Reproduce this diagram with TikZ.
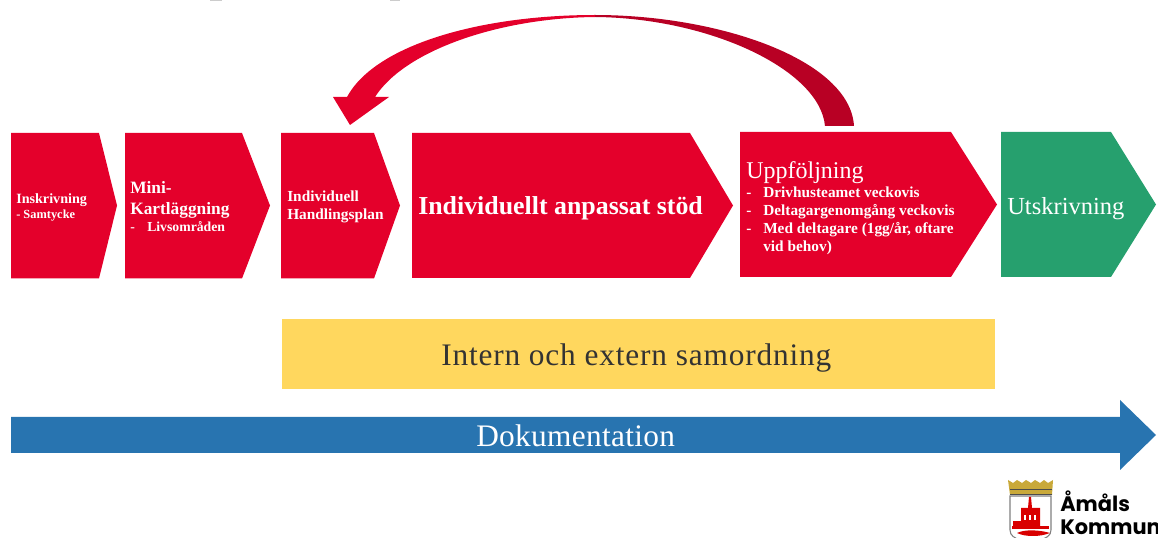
\documentclass[tikz,border=0pt]{standalone}
\usepackage{fontspec}
\setmainfont{Liberation Serif}
\newfontfamily\logofont{Poppins}
\definecolor{boxred}{HTML}{E4002B}
\definecolor{darkred}{HTML}{B80024}
\definecolor{boxgreen}{HTML}{26A06E}
\definecolor{barblue}{HTML}{2874B0}
\definecolor{baryellow}{HTML}{FFD75E}
\definecolor{crestgold}{HTML}{C9A93A}
\tikzset{
  label/.style={anchor=base west, inner sep=0pt, text=white, yshift=-0.75pt},
  small/.style={label, font=\bfseries\fontsize{11.5}{14}\selectfont},
  middle/.style={label, font=\bfseries\fontsize{13}{15}\selectfont},
  large/.style={label, font=\fontsize{18}{21}\selectfont},
  logotext/.style={anchor=base west, inner sep=0pt, font=\logofont\bfseries\fontsize{15.7}{18}\selectfont},
}
\begin{document}
\begin{tikzpicture}[x=0.75pt, y=-0.75pt]
\useasboundingbox (0, 0) rectangle (1158, 538);
\clip (0, 0) rectangle (1158, 538);
% cut off title
\fill[gray!40] (210, 0) rectangle (222, 1);
\fill[gray!40] (390, 0) rectangle (400, 1);
% steps
\fill[boxred] (11, 133) -- (99, 133) -- (117, 205.5) -- (99, 278.5) -- (11, 278.5) -- cycle;
\node[label, font=\bfseries\fontsize{10.6}{12}\selectfont] (inskrivning) at (16, 203) {Inskrivning};
\node[label, font=\bfseries\fontsize{9.3}{10}\selectfont] (samtycke) at (16, 218) {- Samtycke};
\fill[boxred] (125, 133) -- (242, 133) -- (270, 205.5) -- (242, 278.5) -- (125, 278.5) -- cycle;
\node[middle] (mini) at (130, 193) {Mini-};
\node[middle] (kartlaggning) at (130, 214) {Kartläggning};
\node[label, font=\bfseries\fontsize{10.3}{12}\selectfont] (dash one) at (130, 231) {-};
\node[label, font=\bfseries\fontsize{10.3}{12}\selectfont] (livsomraden) at (147, 231) {Livsområden};
\fill[boxred] (281, 133) -- (374, 133) -- (400, 205.5) -- (374, 278.5) -- (281, 278.5) -- cycle;
\node[small] (individuell) at (287, 201) {Individuell};
\node[small] (handlingsplan) at (287, 219) {Handlingsplan};
\fill[boxred] (412, 133) -- (690, 133) -- (733, 205.5) -- (690, 278) -- (412, 278) -- cycle;
\node[label, font=\bfseries\fontsize{19.4}{22}\selectfont] (stod) at (418, 214) {Individuellt anpassat stöd};
\fill[boxred] (740, 132) -- (951, 132) -- (997, 204.5) -- (951, 277) -- (740, 277) -- cycle;
\node[large] (uppfoljning) at (746, 178) {Uppföljning};
\node[small] (dash two) at (746, 197) {-};
\node[small] (drivhus) at (763, 197) {Drivhusteamet veckovis};
\node[small] (dash three) at (746, 215) {-};
\node[small] (deltagar) at (763, 215) {Deltagargenomgång veckovis};
\node[small] (dash four) at (746, 233) {-};
\node[small] (med) at (763, 233) {Med deltagare (1gg/år, oftare};
\node[small] (behov) at (763, 251) {vid behov)};
\fill[boxgreen] (1001, 132) -- (1111, 132) -- (1156, 204.5) -- (1111, 277) -- (1001, 277) -- cycle;
\node[label, font=\fontsize{18.4}{21}\selectfont] (utskrivning) at (1007, 214) {Utskrivning};
% curved arrow
\fill[darkred] (854, 126) .. controls (850, 60) and (720, 15) .. (595, 15) -- (595, 17) .. controls (710, 18) and (820, 70) .. (825, 126) -- cycle;
\fill[boxred] (595, 15) .. controls (480, 15) and (375, 45) .. (347, 97) -- (333, 97) -- (350, 125) -- (389, 97) -- (375, 97) .. controls (405, 50) and (500, 18) .. (595, 17) -- cycle;
% bars
\fill[baryellow] (282, 319) rectangle (995, 389);
\node[label, text=black!80, font=\addfontfeature{LetterSpace=2.7}\fontsize{23.5}{26}\selectfont] (samordning) at (441, 365) {Intern och extern samordning};
\fill[barblue] (11, 417) -- (1120, 417) -- (1120, 400) -- (1156, 435) -- (1120, 470) -- (1120, 453) -- (11, 453) -- cycle;
\node[label, font=\addfontfeature{LetterSpace=1}\fontsize{23.5}{26}\selectfont] (dokumentation) at (476, 446) {Dokumentation};
% crest
\fill[crestgold] (1008, 480) -- (1013, 483) -- (1017, 480) -- (1022, 483) -- (1026, 480) -- (1031, 483) -- (1035, 480) -- (1040, 483) -- (1044, 480) -- (1048, 483) -- (1053, 480) -- (1052, 495) -- (1010, 495) -- cycle;
\fill[black!70] (1010, 489) rectangle (1052, 490.5);
\fill[black!70] (1010, 494) rectangle (1052, 495);
\draw[gray, line width=0.8pt] (1010, 496) -- (1051, 496) -- (1051, 530) .. controls (1051, 536) and (1046, 538) .. (1040, 540) -- (1020, 540) .. controls (1015, 538) and (1010, 536) .. (1010, 530) -- cycle;
\fill[red!85!black] (1029, 497) -- (1031, 497) -- (1032, 508) -- (1040, 508) -- (1040, 526) -- (1021, 526) -- (1021, 508) -- (1028, 508) -- cycle;
\fill[white] (1024, 515) rectangle (1026, 520);
\fill[white] (1029, 515) rectangle (1031, 520);
\fill[white] (1034, 515) rectangle (1036, 520);
\fill[red!85!black] (1013, 521) rectangle (1021, 528);
\fill[red!85!black] (1012, 526) rectangle (1049, 529);
\fill[red!85!black] (1017, 533) .. controls (1025, 529) and (1040, 530) .. (1050, 533) .. controls (1040, 537) and (1025, 537) .. (1017, 533) -- cycle;
\node[logotext] (amals) at (1060, 512) {Åmåls};
\node[logotext] (kommun) at (1060, 535) {Kommun};
\end{tikzpicture}
\end{document}
